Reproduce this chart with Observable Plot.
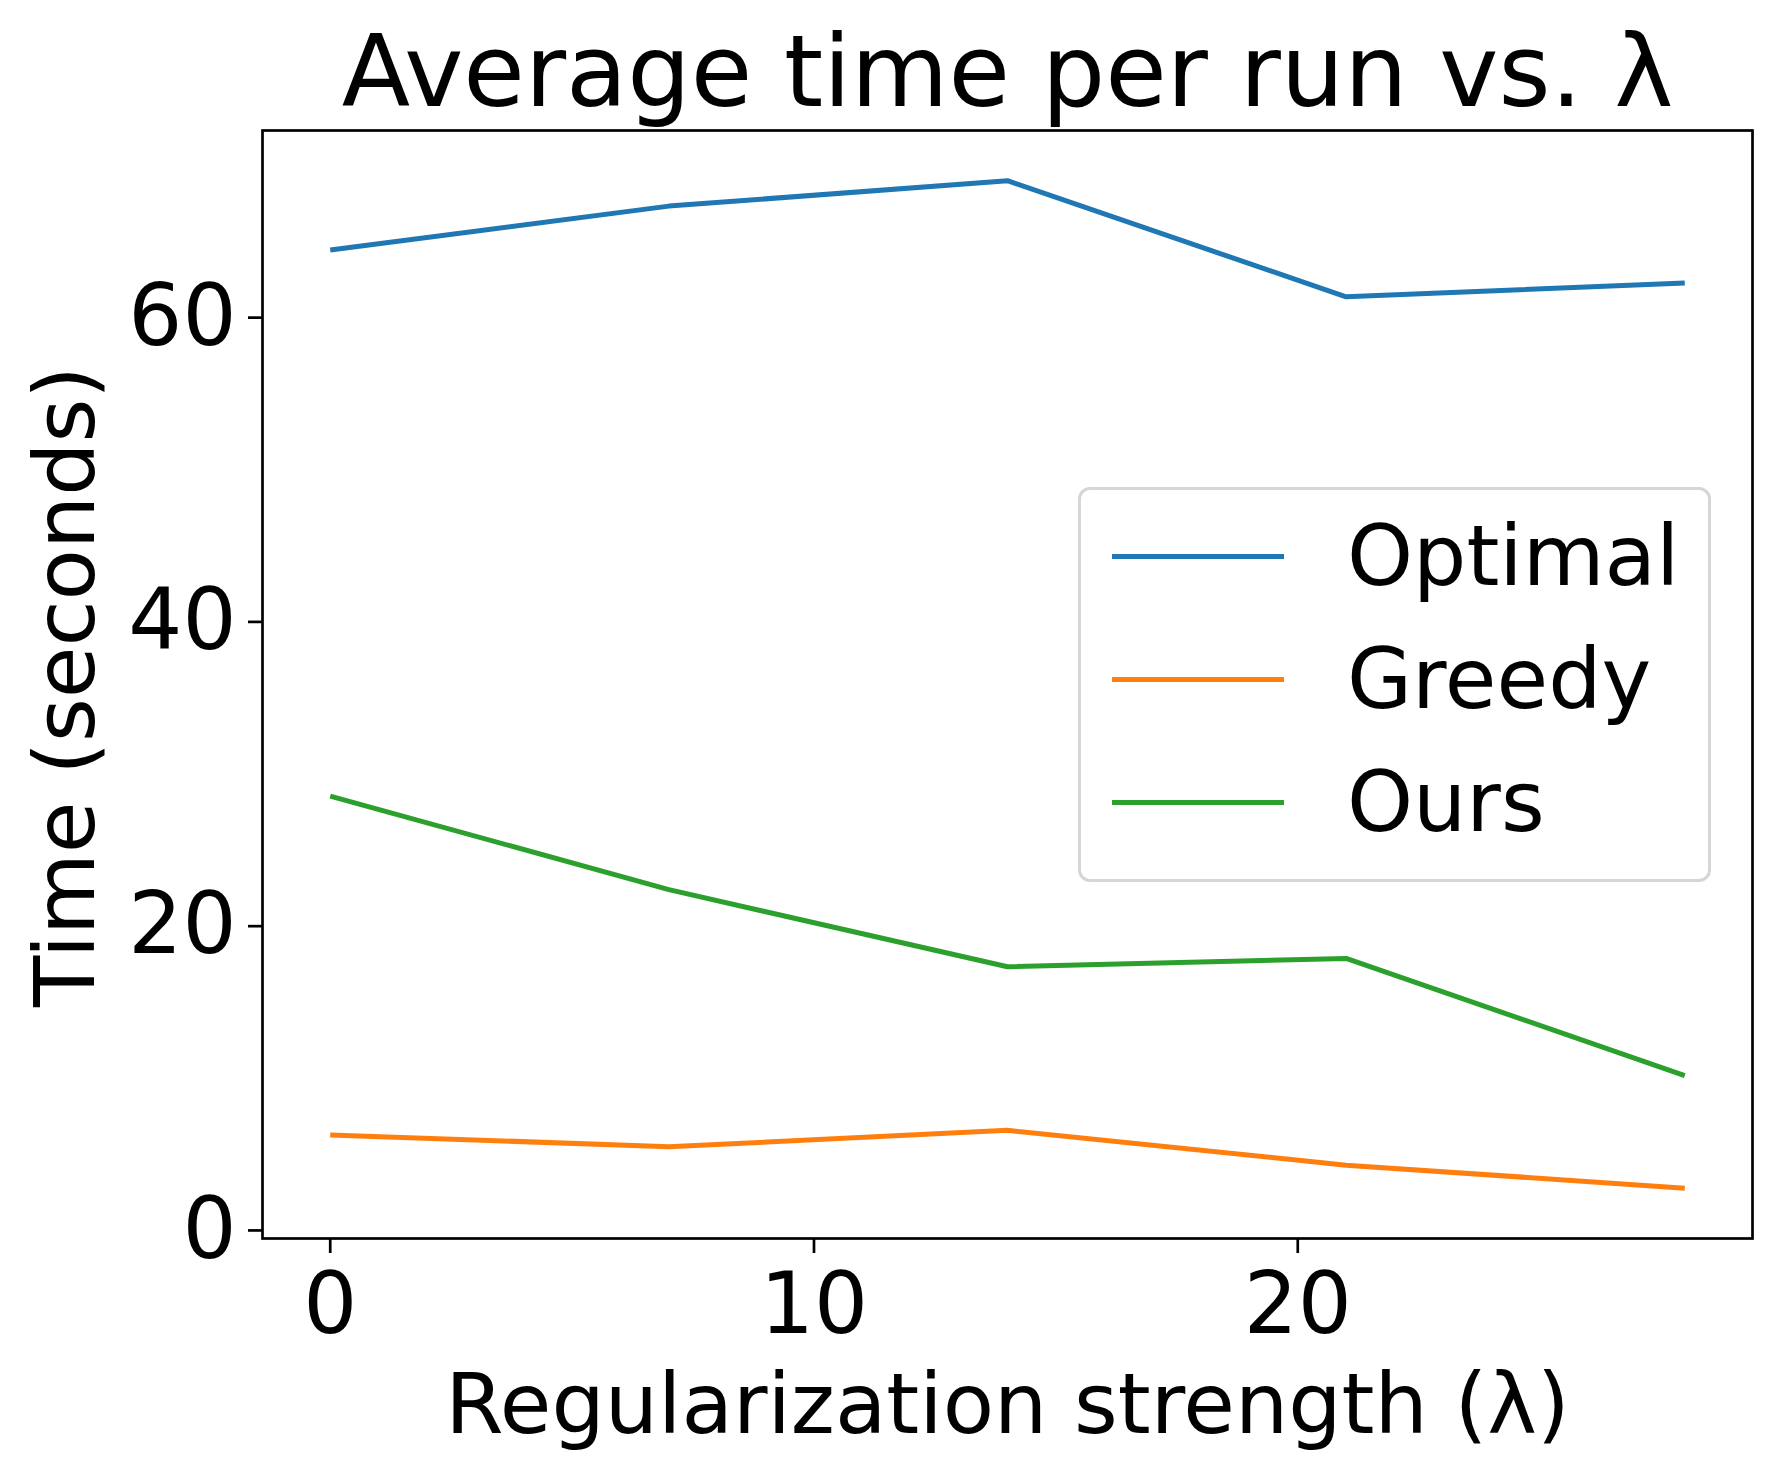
<!DOCTYPE html>
<html>
<head>
<meta charset="utf-8">
<script src="https://cdn.jsdelivr.net/npm/d3@7"></script>
<script src="https://cdn.jsdelivr.net/npm/@observablehq/plot@0.6"></script>
<style>
  html, body { margin: 0; padding: 0; background: white; }
  #wrap { position: relative; width: 1784px; height: 1477px; font-family: "DejaVu Sans", sans-serif; }
  #legend { position: absolute; left: 1078px; top: 487px; width: 627px; height: 389px;
            border: 3px solid #d6d6d6; border-radius: 12px; background: white; }
  .swatch { position: absolute; left: 31px; width: 172px; height: 5px; }
  .lab { position: absolute; left: 266px; font-size: 84px; line-height: 1; white-space: nowrap; color: black; }
</style>
</head>
<body>
<div id="wrap"></div>
<script>
const lambdas = [0, 7, 14, 21, 28];
const optimal = [64.45, 67.33, 69.0, 61.37, 62.27];
const greedy  = [6.28, 5.5, 6.58, 4.29, 2.78];
const ours    = [28.55, 22.4, 17.33, 17.88, 10.18];
const seriesNames = ["Optimal", "Greedy", "Ours"];
const seriesColors = ["#1f77b4", "#ff7f0e", "#2ca02c"];
const xTicks = [0, 10, 20];
const yTicks = [0, 20, 40, 60];

const table = [];
[optimal, greedy, ours].forEach((vals, si) => {
  vals.forEach((v, i) => table.push({series: seriesNames[si], lambda: lambdas[i], time: v}));
});

const chart = Plot.plot({
  width: 1784,
  height: 1477,
  marginLeft: 262,
  marginRight: 32,
  marginTop: 130,
  marginBottom: 239,
  style: {fontFamily: "DejaVu Sans", background: "white", color: "black", overflow: "visible"},
  x: {domain: [-1.4, 29.4]},
  y: {domain: [-0.53, 72.3]},
  color: {domain: seriesNames, range: seriesColors},
  marks: [
    Plot.lineY(table, {x: "lambda", y: "time", stroke: "series", strokeWidth: 5, strokeLinejoin: "round", strokeLinecap: "butt"}),
    Plot.frame({stroke: "black", strokeWidth: 2.7}),
    Plot.axisX({ticks: xTicks, tickSize: 15, tickPadding: 19, fontSize: 85, strokeWidth: 2.7, label: null}),
    Plot.axisY({ticks: yTicks, tickSize: 14, tickPadding: 12, fontSize: 85, strokeWidth: 2.7, label: null}),
    Plot.text(["Average time per run vs. λ"], {frameAnchor: "top", lineAnchor: "bottom", dy: -25, fontSize: 100, fill: "black"}),
    Plot.text(["Regularization strength (λ)"], {frameAnchor: "bottom", lineAnchor: "bottom", dy: 194, fontSize: 84, fill: "black"}),
    Plot.text(["Time (seconds)"], {frameAnchor: "left", textAnchor: "middle", lineAnchor: "bottom", rotate: -90, dx: -169, dy: 2, fontSize: 84, fill: "black"})
  ]
});

const wrap = document.getElementById("wrap");
wrap.appendChild(chart);

// legend
const legend = document.createElement("div");
legend.id = "legend";
const legTop = 487;
const lineCenters = [556, 679, 802];
seriesNames.forEach((name, i) => {
  const sw = document.createElement("div");
  sw.className = "swatch";
  sw.style.background = seriesColors[i];
  sw.style.top = (lineCenters[i] - legTop - 3 - 2.5) + "px";
  legend.appendChild(sw);
  const lab = document.createElement("div");
  lab.className = "lab";
  lab.textContent = name;
  lab.style.top = (lineCenters[i] + 22 - legTop - 3 - 0.76 * 84) + "px";
  legend.appendChild(lab);
});
wrap.appendChild(legend);
</script>
</body>
</html>
